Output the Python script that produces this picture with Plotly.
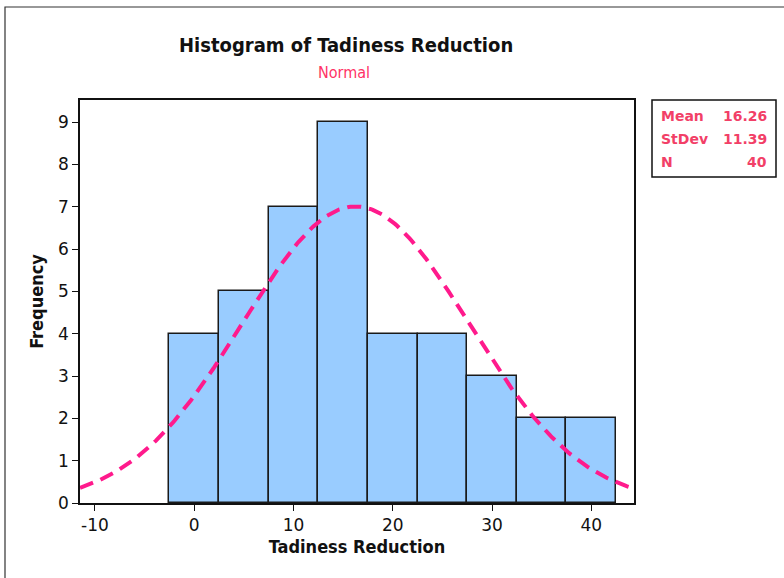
import numpy as np
import plotly.graph_objects as go

bin_centers = [0, 5, 10, 15, 20, 25, 30, 35, 40]
frequencies = [4, 5, 7, 9, 4, 4, 3, 2, 2]
bin_width = 5
mean_val = 16.26
stdev_val = 11.39
n_val = 40
x_ticks = [-10, 0, 10, 20, 30, 40]
x_tick_labels = ["-10", "0", "10", "20", "30", "40"]
y_ticks = [0, 1, 2, 3, 4, 5, 6, 7, 8, 9]

x_min, x_max = -11.5, 44.3
xs = np.linspace(x_min, x_max, 300)
ys = n_val * bin_width / (stdev_val * np.sqrt(2 * np.pi)) * np.exp(-0.5 * ((xs - mean_val) / stdev_val) ** 2)

fig = go.Figure()
fig.add_trace(go.Bar(
    x=bin_centers, y=frequencies, width=bin_width,
    marker=dict(color="#99CCFF", line=dict(color="#1a1a1a", width=1.5)),
    showlegend=False, hoverinfo="x+y"))
fig.add_trace(go.Scatter(
    x=xs, y=ys, mode="lines",
    line=dict(color="#FF1A8C", width=4, dash="14px,8px"),
    showlegend=False, hoverinfo="skip"))

tick_font = dict(family="DejaVu Sans", size=17, color="#111")
fig.update_layout(
    width=784, height=578,
    margin=dict(l=80, r=150, t=100, b=75),
    paper_bgcolor="white", plot_bgcolor="white",
    bargap=0,
    xaxis=dict(range=[x_min, x_max], tickvals=x_ticks, ticktext=x_tick_labels,
               ticks="outside", ticklen=6,
               tickcolor="#111", tickwidth=1.2, showgrid=False, zeroline=False,
               showline=True, linecolor="#111", linewidth=1.5, mirror=True,
               tickfont=tick_font,
               title=dict(text="<b>Tadiness Reduction</b>", standoff=6,
                          font=dict(family="DejaVu Sans Condensed", size=18, color="#111"))),
    yaxis=dict(range=[0, 9.52], tickvals=y_ticks, ticks="outside", ticklen=6,
               tickcolor="#111", tickwidth=1.2, showgrid=False, zeroline=False,
               showline=True, linecolor="#111", linewidth=1.5, mirror=True,
               tickfont=tick_font,
               title=dict(text="<b>Frequency</b>", standoff=10,
                          font=dict(family="DejaVu Sans Condensed", size=18, color="#111"))),
)


def px_x(p):
    return (p - 80) / 554


def px_y(p):
    return (503 - p) / 403


# Title and subtitle
fig.add_annotation(text="<b>Histogram of Tadiness Reduction</b>", xref="paper", yref="paper",
                   x=px_x(346), y=px_y(45), yanchor="middle", showarrow=False,
                   font=dict(family="DejaVu Sans Condensed", size=20, color="#111"))
fig.add_annotation(text="Normal", xref="paper", yref="paper",
                   x=px_x(344), y=px_y(73), yanchor="middle", showarrow=False,
                   font=dict(family="DejaVu Sans Condensed", size=16, color="#FF3366"))

# Stats box
fig.add_shape(type="rect", xref="paper", yref="paper",
              x0=px_x(652), x1=px_x(776), y0=px_y(177), y1=px_y(100),
              line=dict(color="#111", width=1.5), fillcolor="white")
labels = ["Mean", "StDev", "N"]
values = [f"{mean_val:.2f}", f"{stdev_val:.2f}", f"{n_val}"]
stat_color = "#F23F67"
for i, (lab, val) in enumerate(zip(labels, values)):
    yp = px_y(116 + i * 23)
    fig.add_annotation(text=f"<b>{lab}</b>", xref="paper", yref="paper", x=px_x(659), y=yp,
                       xanchor="left", yanchor="middle", showarrow=False,
                       font=dict(family="DejaVu Sans", size=14, color=stat_color))
    fig.add_annotation(text=f"<b>{val}</b>", xref="paper", yref="paper", x=px_x(769), y=yp,
                       xanchor="right", yanchor="middle", showarrow=False,
                       font=dict(family="DejaVu Sans", size=14, color=stat_color))

# Outer frame
fig.add_shape(type="rect", xref="paper", yref="paper",
              x0=px_x(5), x1=px_x(800), y0=px_y(600), y1=px_y(7),
              line=dict(color="#333", width=1.2), fillcolor="rgba(0,0,0,0)")

fig.write_html("out.html", config={"displayModeBar": False},
               post_script="document.body.style.margin='0px';")
